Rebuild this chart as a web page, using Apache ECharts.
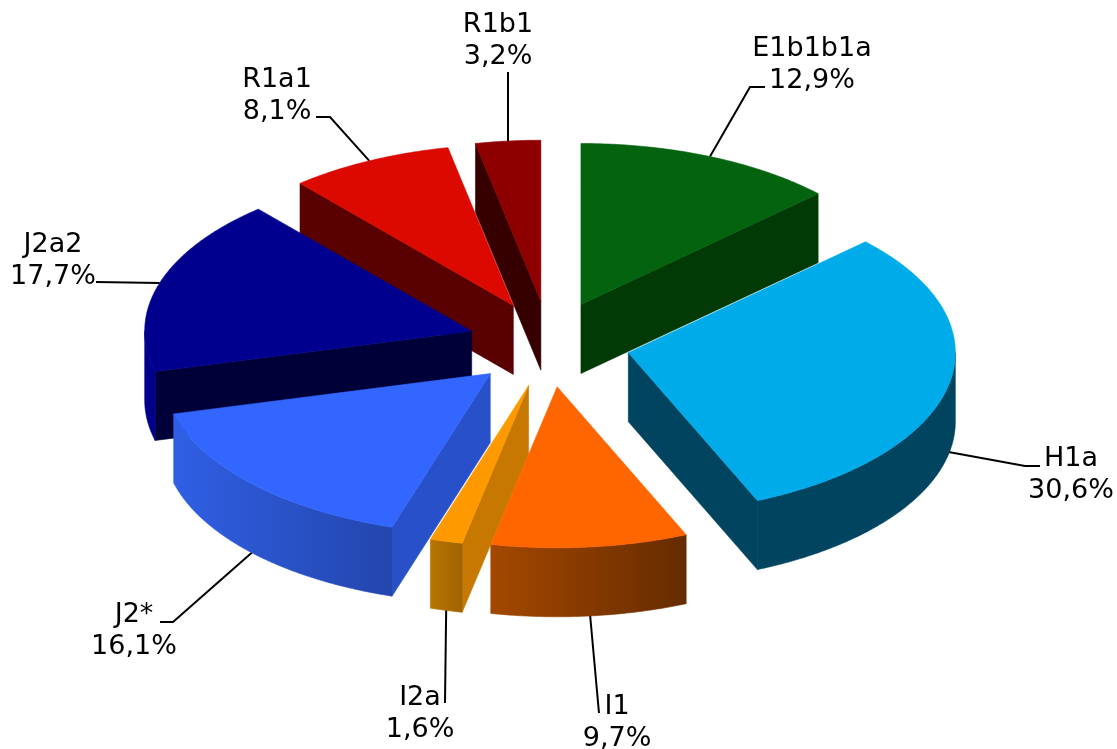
<!DOCTYPE html>
<html>
<head>
<meta charset="utf-8">
<style>html,body{margin:0;padding:0;background:#fff}#c{width:1117px;height:749px}</style>
<script src="https://cdn.jsdelivr.net/npm/echarts@6/dist/echarts.min.js"></script>
</head>
<body>
<div id="c"></div>
<script>
// --- data ---
var categories = ['E1b1b1a', 'H1a', 'I1', 'I2a', 'J2*', 'J2a2', 'R1a1', 'R1b1'];
var shares = [12.9, 30.6, 9.7, 1.6, 16.1, 17.7, 8.1, 3.2];

// --- styling ---
var topColors   = ['#03630f', '#00abe9', '#ff6600', '#ff9900', '#3366ff', '#00008f', '#dc0900', '#8e0000'];
var wallColors  = ['#023a06', '#00445f', '#662b00', '#c77800', '#2850c8', '#000038', '#590000', '#360000'];
var outerLeft   = ['#023a06', '#00445f', '#a34800', '#b87500', '#305fe4', '#00008a', '#590000', '#360000'];
var outerRight  = ['#023a06', '#00445f', '#662b00', '#a06300', '#2346ac', '#00008a', '#590000', '#360000'];

// --- pie geometry ---
var pie = { cx: 549, cy: 344, rx: 327, ry: 161, depth: 69, explodeX: 81, explodeY: 43 };
// --- label layout: elbow point, end point, text centre ---
var labelLayout = [
  { elbow: [750, 87],  end: [765, 87],  text: [812, 65] },
  { elbow: [1025, 466], end: [1040, 466], text: [1071, 475] },
  { elbow: [599, 713], end: [599, 713], text: [617, 723] },
  { elbow: [445, 703], end: [445, 703], text: [420, 714] },
  { elbow: [173, 622], end: [160, 622], text: [134, 631] },
  { elbow: [96, 282],  end: [96, 282],  text: [53, 261] },
  { elbow: [330, 117], end: [316, 117], text: [277, 96] },
  { elbow: [508, 72],  end: [508, 72],  text: [498, 41] }
];
var fontCss = '27px "DejaVu Sans"';

var total = shares.reduce(function (s, v) { return s + v; }, 0);
var slices = [];
(function () {
  var acc = 0;
  shares.forEach(function (v, i) {
    var a0 = acc / total * 360;
    acc += v;
    var a1 = acc / total * 360;
    var mid = (a0 + a1) / 2 * Math.PI / 180;
    slices.push({
      index: i, a0: a0, a1: a1, mid: mid,
      ax: pie.cx + Math.sin(mid) * pie.explodeX,
      ay: pie.cy - Math.cos(mid) * pie.explodeY
    });
  });
})();

function rimPoint(s, deg, drop) {
  var r = deg * Math.PI / 180;
  return [s.ax + Math.sin(r) * pie.rx, s.ay - Math.cos(r) * pie.ry + (drop || 0)];
}
function arc(s, from, to, drop) {
  var pts = [], n = Math.max(2, Math.ceil((to - from) * 2));
  for (var i = 0; i <= n; i++) pts.push(rimPoint(s, from + (to - from) * i / n, drop));
  return pts;
}
function poly(points, fill) {
  return { type: 'polygon', shape: { points: points }, style: { fill: fill, stroke: fill, lineWidth: 0.6 } };
}
function renderSlice(params) {
  var s = slices[drawOrder[params.dataIndex]], i = s.index, kids = [];
  var apex = [s.ax, s.ay], apexLow = [s.ax, s.ay + pie.depth];
  var start = rimPoint(s, s.a0), end = rimPoint(s, s.a1);
  if (start[0] < apex[0] - 0.5) {
    kids.push(poly([apex, start, rimPoint(s, s.a0, pie.depth), apexLow], wallColors[i]));
  }
  if (apex[0] < end[0] - 0.5) {
    kids.push(poly([apex, end, rimPoint(s, s.a1, pie.depth), apexLow], wallColors[i]));
  }
  var f = Math.max(s.a0, 90), t = Math.min(s.a1, 270);
  if (t > f) {
    var low = arc(s, f, t, pie.depth).reverse();
    var grad = new echarts.graphic.LinearGradient(0, 0, 1, 0, [
      { offset: 0, color: outerLeft[i] }, { offset: 1, color: outerRight[i] }
    ]);
    // gradient runs left to right on screen
    kids.push({ type: 'polygon', shape: { points: arc(s, f, t).concat(low) },
      style: { fill: grad, stroke: grad, lineWidth: 0.6 } });
  }
  kids.push(poly([apex].concat(arc(s, s.a0, s.a1)), topColors[i]));
  return { type: 'group', children: kids };
}
function renderLabel(params) {
  var i = params.dataIndex, s = slices[i], L = labelLayout[i];
  var deg = s.mid * 180 / Math.PI;
  var anchor = rimPoint(s, deg, Math.cos(s.mid) < 0 ? pie.depth - 2 : 0);
  return { type: 'group', children: [
    { type: 'polyline', shape: { points: [anchor, L.elbow, L.end] },
      style: { stroke: '#000', lineWidth: 2, fill: null } },
    { type: 'text', style: {
        text: categories[i] + '\n' + shares[i].toFixed(1).replace('.', ',') + '%',
        x: L.text[0], y: L.text[1], align: 'center', verticalAlign: 'middle',
        font: fontCss, lineHeight: 32, fill: '#000' } }
  ] };
}
// back slices are painted first
var drawOrder = slices.map(function (s) { return s.index; }).sort(function (a, b) {
  return Math.cos(slices[b].mid) - Math.cos(slices[a].mid);
});

var chart = echarts.init(document.getElementById('c'), null, { renderer: 'canvas' });
chart.setOption({
  backgroundColor: '#ffffff',
  animation: false,
  series: [
    { type: 'custom', coordinateSystem: 'none', z: 1, silent: true, renderItem: renderLabel,
      data: shares.map(function (v, i) { return { name: categories[i], value: v }; }) },
    { type: 'custom', coordinateSystem: 'none', z: 2, silent: true, renderItem: renderSlice,
      data: drawOrder.map(function (i) { return { name: categories[i], value: shares[i] }; }) }
  ]
});
</script>
</body>
</html>
